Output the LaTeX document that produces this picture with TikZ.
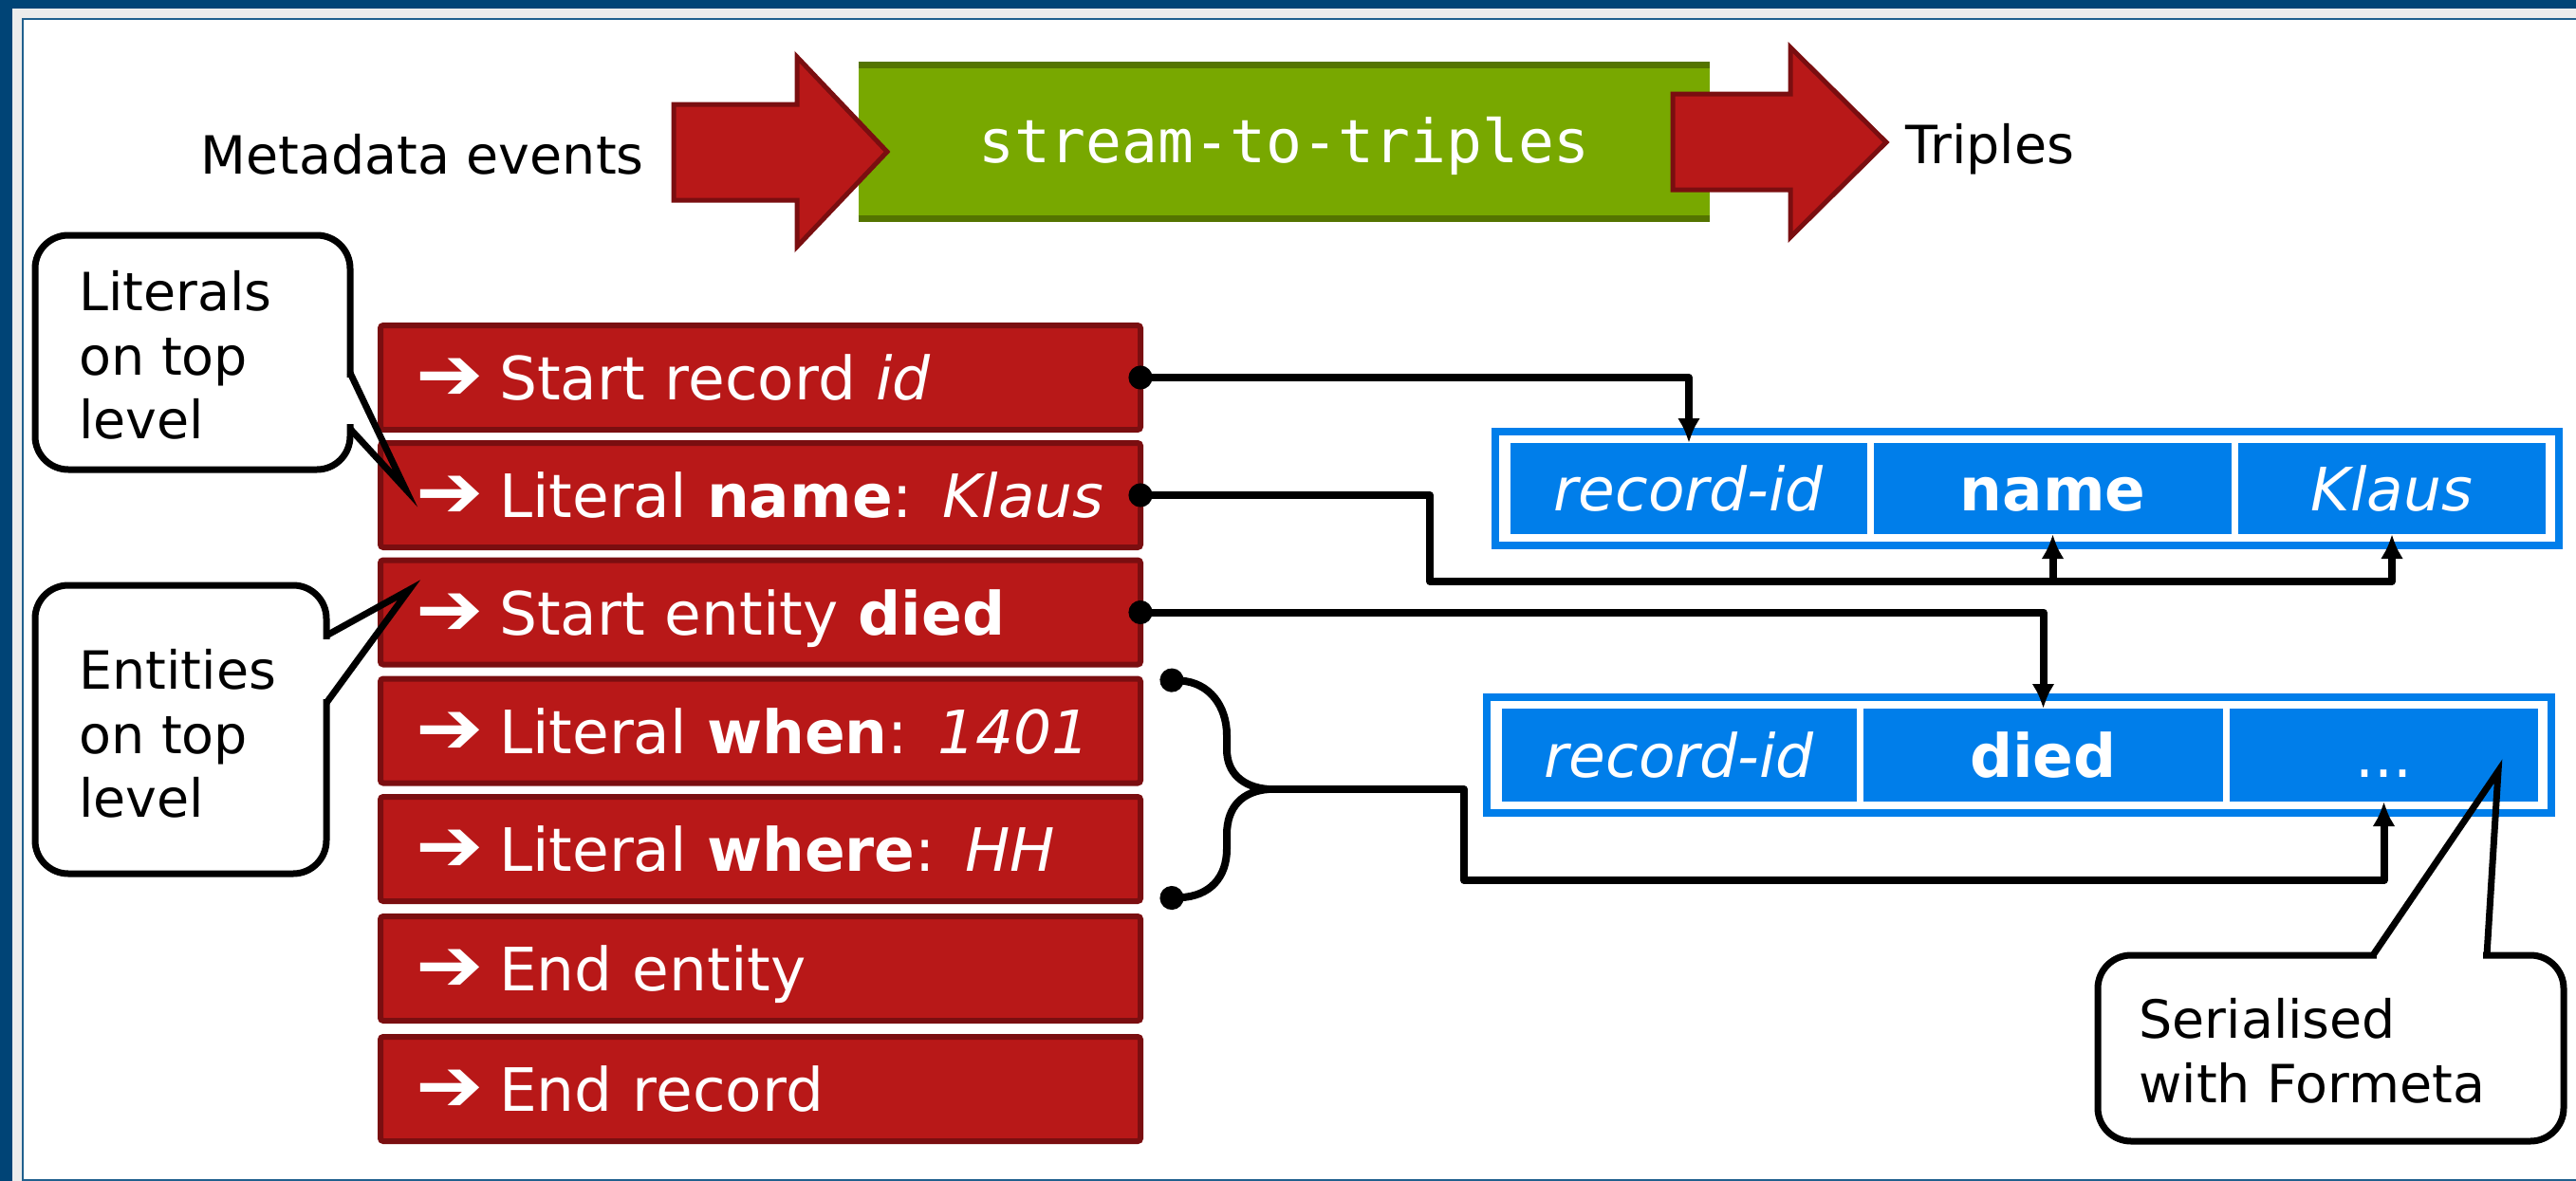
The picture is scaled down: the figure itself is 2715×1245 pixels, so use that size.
\documentclass[tikz,border=0pt]{standalone}
\usepackage{fontspec}
\setmainfont{DejaVu Sans}
\setmonofont{DejaVu Sans Mono}
\usetikzlibrary{arrows.meta}

\definecolor{evred}{RGB}{184,24,24}
\definecolor{evdark}{RGB}{122,14,16}
\definecolor{procgreen}{RGB}{120,168,0}
\definecolor{procdark}{RGB}{84,116,0}
\definecolor{cellblue}{RGB}{0,126,234}
\definecolor{framedark}{RGB}{0,68,118}
\definecolor{frameblue}{RGB}{32,96,142}
\definecolor{framegrey}{RGB}{236,236,236}

\newcommand{\evarrow}{\makebox[88pt][l]{\scalebox{1.35}[1.25]{➔}}}

\tikzset{every picture/.style={line width=0.75pt}}
\tikzset{
  evbox/.style={fill=evred, draw=evdark, line width=6pt, rounded corners=3pt, outer sep=0pt,
    minimum width=801pt, minimum height=110pt, text width=727pt, inner xsep=37pt, inner ysep=0pt,
    align=left, text=white, font=\fontsize{63}{75}\selectfont, text height=56.7pt, text depth=8.8pt},
  cell/.style={fill=cellblue, text=white, inner sep=0pt, outer sep=0pt,
    font=\fontsize{63}{75}\selectfont, text height=56.7pt, text depth=8.8pt},
  tabframe/.style={draw=cellblue, line width=8pt},
  wire/.style={draw=black, line width=8pt, line join=round},
  tip/.style={-{Latex[length=26pt,width=24pt]}},
  dottip/.style={{Circle[length=25pt]}-{Latex[length=26pt,width=24pt]}},
  noteedge/.style={draw=black, line width=7pt},
  note/.style={noteedge, fill=white, rounded corners=35pt},
  notetext/.style={anchor=north west, inner sep=0pt, align=left, font=\fontsize{55.5}{67.5}\selectfont},
  lbl/.style={anchor=base west, inner sep=0pt, font=\fontsize{55.5}{67.5}\selectfont},
  blockarrow/.style={fill=evred, draw=evdark, line width=5pt}
}

\begin{document}
\begin{tikzpicture}[x=1pt,y=1pt,yscale=-1,xscale=1]
\useasboundingbox (0,0) rectangle (2715,1245);

%Frame
\fill[framedark] (0,0) rectangle (13,1245);
\fill[framedark] (0,0) rectangle (2715,9);
\fill[framegrey] (13,9) rectangle (23,1245);
\fill[framegrey] (13,9) rectangle (2715,19);
\fill[frameblue] (23,19) rectangle (25,1245);
\fill[frameblue] (23,19) rectangle (2715,21);
\fill[frameblue] (23,1243) rectangle (2715,1245);

%Text Node
\node[lbl] (lblin) at (211,183) {Metadata events};
%Text Node
\node[lbl] (lblout) at (2008,172) {Triples};

%Shape: Rectangle
\node[fill=procgreen, minimum width=897pt, minimum height=169pt, inner sep=0pt, text=white,
  font=\ttfamily\fontsize{63}{75}\selectfont, text height=50pt, text depth=6pt] (proc) at (1353.5,149.5) {stream-to-triples};
\draw[procdark, line width=7pt] ([shift={(0,3.5)}]proc.north west) -- ([shift={(0,3.5)}]proc.north east);
\draw[procdark, line width=7pt] ([shift={(0,-3.5)}]proc.south west) -- ([shift={(0,-3.5)}]proc.south east);

%Right Arrow
\draw[blockarrow] (710,110) -- (840,110) -- (840,60) -- (935,160) -- (840,260) -- (840,211) -- (710,211) -- cycle;
%Right Arrow
\draw[blockarrow] (1763,99) -- (1887,99) -- (1887,50) -- (1988,150) -- (1887,250) -- (1887,200) -- (1763,200) -- cycle;

%Event boxes
\node[evbox] (r1) at (801.5,398) {\evarrow Start record \textit{id}};
\node[evbox] (r2) at (801.5,522) {\evarrow Literal \textbf{name}: \textit{Klaus}};
\node[evbox] (r3) at (801.5,645.5) {\evarrow Start entity \textbf{died}};
\node[evbox] (r4) at (801.5,770.5) {\evarrow Literal \textbf{when}: \textit{1401}};
\node[evbox] (r5) at (801.5,895) {\evarrow Literal \textbf{where}: \textit{HH}};
\node[evbox] (r6) at (801.5,1021) {\evarrow End entity};
\node[evbox] (r7) at (801.5,1148) {\evarrow End record};

%Triple table 1
\node[cell, minimum width=376pt, minimum height=96pt] (t1a) at (1780,515) {\textit{record-id}};
\node[cell, minimum width=377pt, minimum height=96pt] (t1b) at (2163.5,515) {\textbf{name}};
\node[cell, minimum width=324pt, minimum height=96pt] (t1c) at (2521,515) {\textit{Klaus}};
\draw[tabframe] ([shift={(-16,-12)}]t1a.north west) rectangle ([shift={(14,12)}]t1c.south east);

%Triple table 2
\node[cell, minimum width=374pt, minimum height=98pt] (t2a) at (1770,796) {\textit{record-id}};
\node[cell, minimum width=379pt, minimum height=98pt] (t2b) at (2153.5,796) {\textbf{died}};
\node[cell, minimum width=325pt, minimum height=98pt] (t2c) at (2512.5,796) {...};
\draw[tabframe] ([shift={(-16,-12)}]t2a.north west) rectangle ([shift={(14,12)}]t2c.south east);

%Straight Lines
\draw[wire, dottip] ([shift={(-12.5,0)}]r1.east) -| (t1a.north);
%Straight Lines
\coordinate (bus2) at (1507,613);
\draw[wire, dottip] ([shift={(-12.5,0)}]r2.east) -| (bus2) -| (t1c.south);
\draw[wire, tip] (t1b.south |- bus2) -- (t1b.south);
%Straight Lines
\draw[wire, dottip] ([shift={(-12.5,0)}]r3.east) -| (t2b.north);

%Curve Lines
\coordinate (br1) at ([shift={(20.5,1)}]r4.north east);
\coordinate (br2) at ([shift={(20.5,-3)}]r5.south east);
\coordinate (brtip) at (1337,832);
\coordinate (bus4) at (1543,928);
\draw[wire, {Circle[length=25pt]}-] (br1) .. controls (1275,719) and (1293,745) .. (1293,775) -- (1293,790) .. controls (1293,815) and (1310,830) .. (brtip);
\draw[wire, {Circle[length=25pt]}-] (br2) .. controls (1275,945) and (1293,925) .. (1293,895) -- (1293,880) .. controls (1293,850) and (1310,834) .. (brtip);
\draw[wire, tip] (brtip) -| (bus4) -| (t2c.south);

%Callout 1
\draw[note] (37,248) rectangle (369,495);
\fill[white] (364,398) rectangle (374,447);
\draw[noteedge] (369,393) -- (427,515) -- (369,452);
\node[notetext] (n1) at (83,285) {Literals\\on top\\level};

%Callout 2
\draw[note] (37,617) rectangle (344,921);
\fill[white] (339,674) rectangle (349,737);
\draw[noteedge] (344,670) -- (431,622) -- (344,741);
\node[notetext] (n2) at (83,684) {Entities\\on top\\level};

%Callout 3
\draw[note] (2211,1007) rectangle (2702,1203);
\fill[white] (2505,1002) rectangle (2617,1012);
\draw[noteedge] (2501,1007) -- (2633,813) -- (2621,1007);
\node[notetext] (n3) at (2254,1052) {Serialised\\with Formeta};

\end{tikzpicture}
\end{document}
